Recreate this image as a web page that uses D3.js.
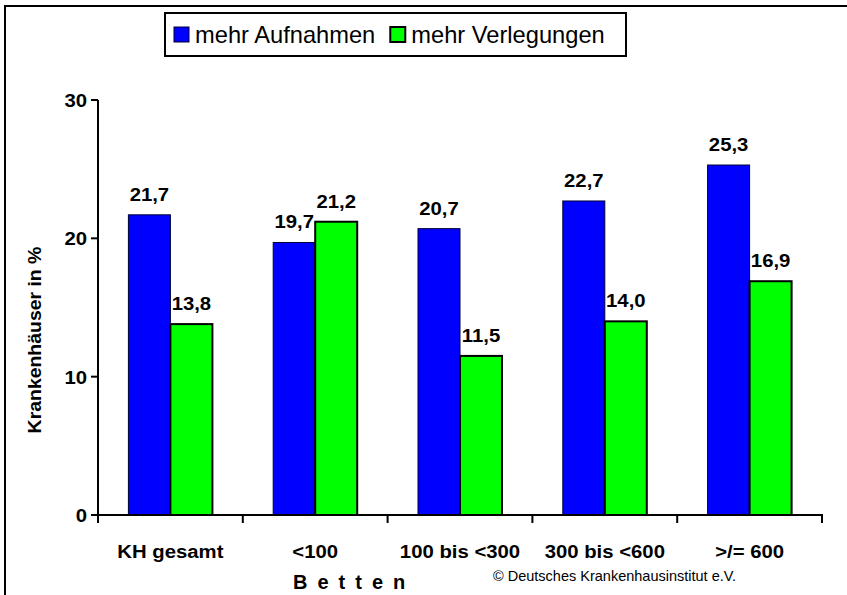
<!DOCTYPE html>
<html>
<head>
<meta charset="utf-8">
<script src="https://cdn.jsdelivr.net/npm/d3@7"></script>
<style>
  body { margin: 0; background: #fff; }
  svg { display: block; font-family: Arial, "Liberation Sans", sans-serif; }
</style>
</head>
<body>
<div id="chart"></div>
<script>
const categories = ['KH gesamt', '<100', '100 bis <300', '300 bis <600', '>/= 600'];
const series = ['mehr Aufnahmen', 'mehr Verlegungen'];
const aufnahmen = [21.7, 19.7, 20.7, 22.7, 25.3];
const verlegungen = [13.8, 21.2, 11.5, 14.0, 16.9];
const yTicks = [0, 10, 20, 30];

const width = 847, height = 595;
const colors = { 'mehr Aufnahmen': '#0000ff', 'mehr Verlegungen': '#00ff00' };
const strokes = { 'mehr Aufnahmen': { c: '#000033', w: 1 }, 'mehr Verlegungen': { c: '#000', w: 2 } };
const sx = 1.07; // the original text is a bit wide

const svg = d3.select('#chart').append('svg')
    .attr('width', width)
    .attr('height', height);

// outer frame, runs off the right and bottom
svg.append('rect')
    .attr('x', 5).attr('y', 6)
    .attr('width', 900).attr('height', 700)
    .attr('fill', 'none').attr('stroke', '#000').attr('stroke-width', 2);

const x0 = d3.scaleBand().domain(categories).range([98, 822]).padding(0);
const barW = 42;
const x1 = d3.scaleBand().domain(series)
    .range([x0.bandwidth() / 2 - barW, x0.bandwidth() / 2 + barW]);
const y = d3.scaleLinear().domain([0, 30]).range([515, 100]);

function stext(sel, x, yy, str, k) {
  return sel.append('text')
      .attr('transform', 'translate(' + x + ',' + yy + ') scale(' + k + ',1)')
      .text(str);
}

const rows = categories.map((c, i) => ({ cat: c, vals: [
  { s: series[0], v: aufnahmen[i] },
  { s: series[1], v: verlegungen[i] }
]}));

// bars
const groups = svg.selectAll('.grp')
    .data(rows)
  .enter().append('g')
    .attr('class', 'grp')
    .attr('transform', d => 'translate(' + x0(d.cat) + ',0)');

groups.selectAll('rect')
    .data(d => d.vals)
  .enter().append('rect')
    .attr('x', d => x1(d.s))
    .attr('y', d => y(d.v))
    .attr('width', x1.bandwidth())
    .attr('height', d => y(0) - y(d.v))
    .attr('fill', d => colors[d.s])
    .attr('stroke', d => strokes[d.s].c)
    .attr('stroke-width', d => strokes[d.s].w);

// value labels
groups.each(function(d) {
  const g = d3.select(this);
  d.vals.forEach(v => {
    stext(g, x1(v.s) + x1.bandwidth() / 2, y(v.v) - 14, d3.format('.1f')(v.v).replace('.', ','), sx)
        .attr('text-anchor', 'middle')
        .attr('font-size', 19).attr('font-weight', 'bold');
  });
});

// y axis
const yAxis = svg.append('g');
yAxis.append('line')
    .attr('x1', 98).attr('x2', 98)
    .attr('y1', y(30)).attr('y2', y(0))
    .attr('stroke', '#000').attr('stroke-width', 2);
yAxis.selectAll('.yt')
    .data(yTicks)
  .enter().append('line')
    .attr('x1', 91).attr('x2', 98)
    .attr('y1', d => y(d)).attr('y2', d => y(d))
    .attr('stroke', '#000').attr('stroke-width', 2);
yTicks.forEach(t => {
  stext(yAxis, 87, y(t) + 7, t, sx)
      .attr('text-anchor', 'end')
      .attr('font-size', 19).attr('font-weight', 'bold');
});

// x axis
const xAxis = svg.append('g');
xAxis.append('line')
    .attr('x1', 97).attr('x2', 823)
    .attr('y1', y(0)).attr('y2', y(0))
    .attr('stroke', '#000').attr('stroke-width', 2);
const bounds = categories.map(c => x0(c)).concat([x0.range()[1]]);
xAxis.selectAll('.xt')
    .data(bounds)
  .enter().append('line')
    .attr('x1', d => d).attr('x2', d => d)
    .attr('y1', y(0)).attr('y2', y(0) + 8)
    .attr('stroke', '#000').attr('stroke-width', 2);
categories.forEach(c => {
  stext(xAxis, x0(c) + x0.bandwidth() / 2, 558, c, sx)
      .attr('text-anchor', 'middle')
      .attr('font-size', 19).attr('font-weight', 'bold');
});

// axis titles
svg.append('text')
    .attr('transform', 'translate(41,340) rotate(-90) scale(1.08,1)')
    .attr('text-anchor', 'middle')
    .attr('font-size', 18).attr('font-weight', 'bold')
    .text('Krankenhäuser in %');

svg.append('text')
    .attr('x', 293).attr('y', 589)
    .attr('font-size', 20).attr('font-weight', 'bold')
    .attr('letter-spacing', 10)
    .text('Betten');

svg.append('text')
    .attr('x', 493).attr('y', 581)
    .attr('font-size', 14.5)
    .text('\u00a9 Deutsches Krankenhausinstitut e.V.');

// legend
const legend = svg.append('g');
legend.append('rect')
    .attr('x', 165).attr('y', 13)
    .attr('width', 461).attr('height', 43)
    .attr('fill', '#fff').attr('stroke', '#000').attr('stroke-width', 2);
let lx = 174;
series.forEach(s => {
  legend.append('rect')
      .attr('x', lx).attr('y', 27)
      .attr('width', 15).attr('height', 15)
      .attr('fill', colors[s])
      .attr('stroke', strokes[s].c).attr('stroke-width', strokes[s].w);
  const t = stext(legend, lx + 21, 43, s, 1.03)
      .attr('font-size', 23);
  lx += 21 + t.node().getComputedTextLength() * 1.03 + 15;
});
</script>
</body>
</html>
